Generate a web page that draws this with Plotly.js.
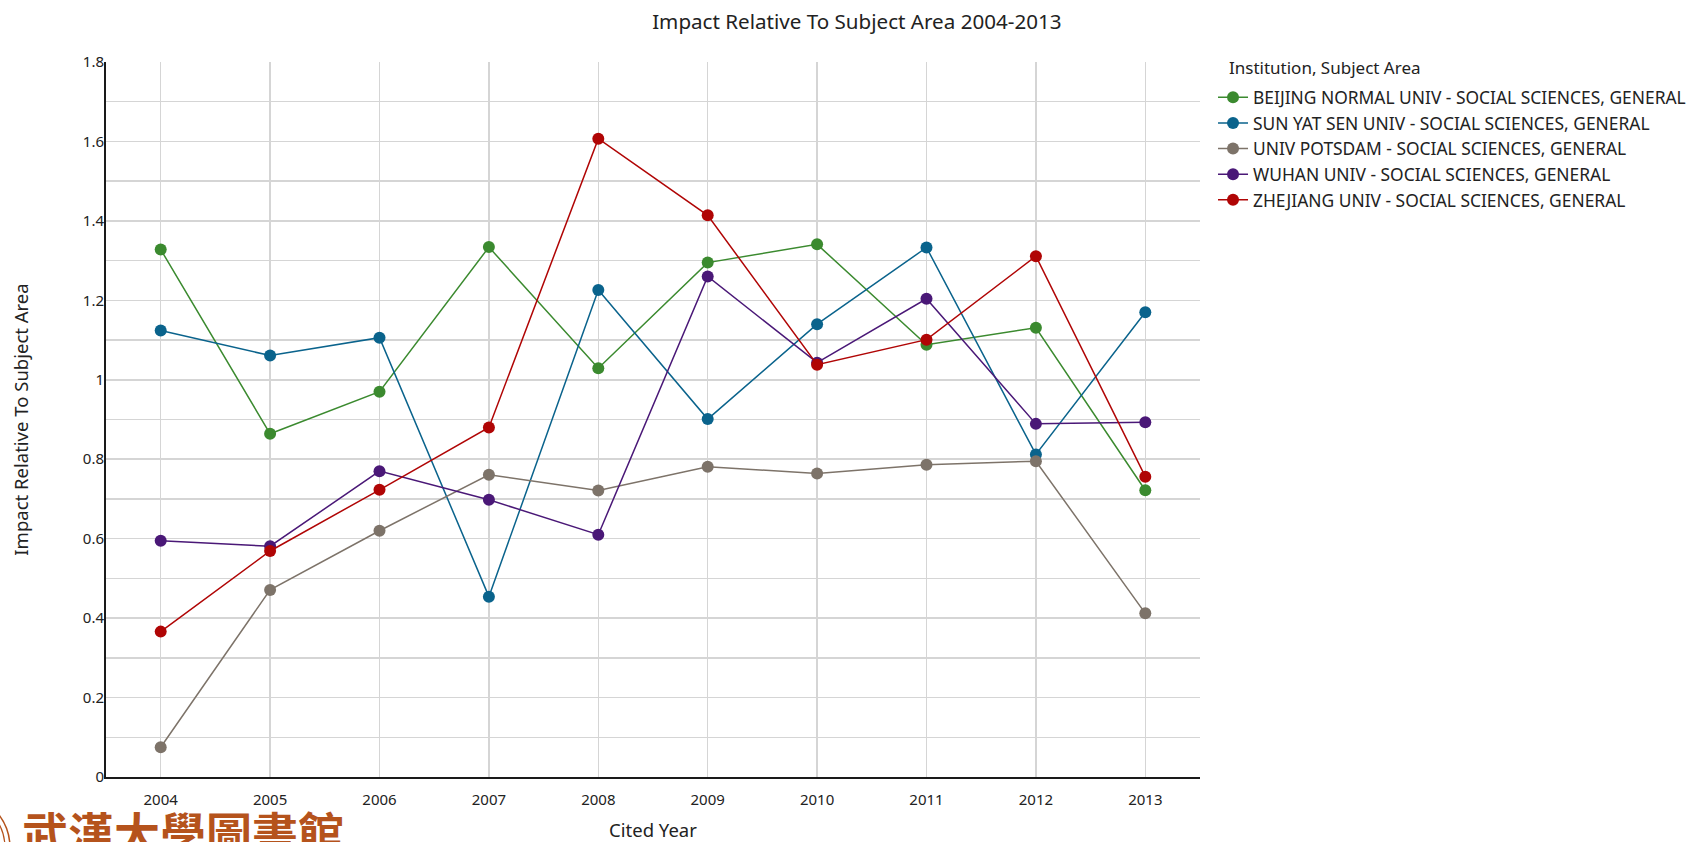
<!DOCTYPE html>
<html>
<head>
<meta charset="utf-8">
<script src="https://cdn.plot.ly/plotly-3.0.1.min.js"></script>
<style>
html, body { margin: 0; padding: 0; background: #fff; }
#chart { width: 1690px; height: 842px; }
</style>
</head>
<body>
<div id="chart"></div>
<script>
// cited years on the x axis
var years = [2004, 2005, 2006, 2007, 2008, 2009, 2010, 2011, 2012, 2013];

// impact relative to subject area, one array per institution
var beijingNormal = [1.328, 0.864, 0.970, 1.334, 1.029, 1.295, 1.341, 1.088, 1.131, 0.722];
var sunYatSen     = [1.124, 1.061, 1.106, 0.454, 1.226, 0.901, 1.140, 1.333, 0.812, 1.170];
var univPotsdam   = [0.075, 0.471, 0.620, 0.761, 0.721, 0.781, 0.764, 0.786, 0.795, 0.412];
var wuhanUniv     = [0.595, 0.581, 0.770, 0.698, 0.610, 1.260, 1.043, 1.204, 0.889, 0.893];
var zhejiangUniv  = [0.366, 0.569, 0.723, 0.880, 1.607, 1.414, 1.038, 1.101, 1.311, 0.756];

var seriesNames = [
	'BEIJING NORMAL UNIV - SOCIAL SCIENCES, GENERAL',
	'SUN YAT SEN UNIV - SOCIAL SCIENCES, GENERAL',
	'UNIV POTSDAM - SOCIAL SCIENCES, GENERAL',
	'WUHAN UNIV - SOCIAL SCIENCES, GENERAL',
	'ZHEJIANG UNIV - SOCIAL SCIENCES, GENERAL'
];
var seriesColors = ['#3b8a2f', '#0a638c', '#7d7369', '#4a1877', '#b00505'];

var yTickVals = [0, 0.2, 0.4, 0.6, 0.8, 1, 1.2, 1.4, 1.6, 1.8];
var yTickText = ['0', '0.2', '0.4', '0.6', '0.8', '1', '1.2', '1.4', '1.6', '1.8'];

var allSeries = [beijingNormal, sunYatSen, univPotsdam, wuhanUniv, zhejiangUniv];

var data = allSeries.map(function(vals, i){
	return {
		x: years,
		y: vals,
		type: 'scatter',
		mode: 'lines+markers',
		name: seriesNames[i],
		legendgroup: 'g' + i,
		line: {color: seriesColors[i], width: 1.5},
		marker: {color: seriesColors[i], size: 12}
	};
});

var gridCol = '#d5d5d5';
var logoCol = '#b5531c';

// pixel -> paper helpers (plot area is 106..1200 x 62..777)
function px(x){ return (x - 106)/1094; }
function py(y){ return (777 - y)/715; }

var layout = {
	width: 1690,
	height: 842,
	margin: {l: 106, r: 490, t: 62, b: 65, pad: 0, autoexpand: false},
	paper_bgcolor: '#fff',
	plot_bgcolor: '#fff',
	font: {family: '"Noto Sans", sans-serif', size: 15, color: '#222'},
	showlegend: true,
	title: {
		text: 'Impact Relative To Subject Area 2004-2013',
		font: {size: 20.6, color: '#222'},
		xref: 'container', x: 0.507, xanchor: 'center',
		yref: 'container', y: 1 - 21.5/842, yanchor: 'middle'
	},
	xaxis: {
		range: [2003.5, 2013.5],
		tickvals: years,
		ticktext: years.map(String),
		showgrid: true, gridcolor: gridCol, gridwidth: 1.5,
		showline: true, linecolor: '#1a1a1a', linewidth: 2,
		zeroline: false, ticks: '',
		ticklabelstandoff: 8,
		tickfont: {size: 15},
		title: {text: 'Cited Year', font: {size: 18.5}, standoff: 18}
	},
	yaxis: {
		range: [0, 1.8],
		tickvals: yTickVals,
		ticktext: yTickText,
		showgrid: true, gridcolor: gridCol, gridwidth: 1.5,
		minor: {dtick: 0.1, tick0: 0, showgrid: true, gridcolor: gridCol, gridwidth: 1.5, ticks: ''},
		showline: true, linecolor: '#1a1a1a', linewidth: 2,
		zeroline: false, ticks: '',
		ticklabelstandoff: -3,
		tickfont: {size: 15},
		title: {text: 'Impact Relative To Subject Area', font: {size: 18.5}, standoff: 49}
	},
	legend: {
		x: 1.0119, xanchor: 'left',
		y: py(79.5), yanchor: 'top',
		bgcolor: 'rgba(0,0,0,0)',
		font: {size: 17.4, color: '#222'},
		traceorder: 'grouped',
		tracegroupgap: 0
	},
	annotations: [{
		// legend heading
		text: 'Institution, Subject Area',
		xref: 'paper', yref: 'paper',
		x: px(1227), xanchor: 'left',
		y: py(68), yanchor: 'middle',
		showarrow: false,
		font: {size: 17, color: '#222'}
	}, {
		text: '武漢大學圖書館',
		xref: 'paper', yref: 'paper',
		x: px(20), xanchor: 'left',
		y: py(796), yanchor: 'top',
		showarrow: false,
		font: {family: '"Noto Sans CJK TC", sans-serif', size: 46, color: logoCol, weight: 700}
	}],
	shapes: [
		{type: 'circle', xref: 'paper', yref: 'paper', x0: px(-100), x1: px(10), y0: py(793), y1: py(903),
			line: {color: logoCol, width: 1.5}},
		{type: 'circle', xref: 'paper', yref: 'paper', x0: px(-95), x1: px(5), y0: py(798), y1: py(898),
			line: {color: logoCol, width: 1.2}}
	]
};

Plotly.newPlot('chart', data, layout, {displayModeBar: false, staticPlot: true});
</script>
</body>
</html>
